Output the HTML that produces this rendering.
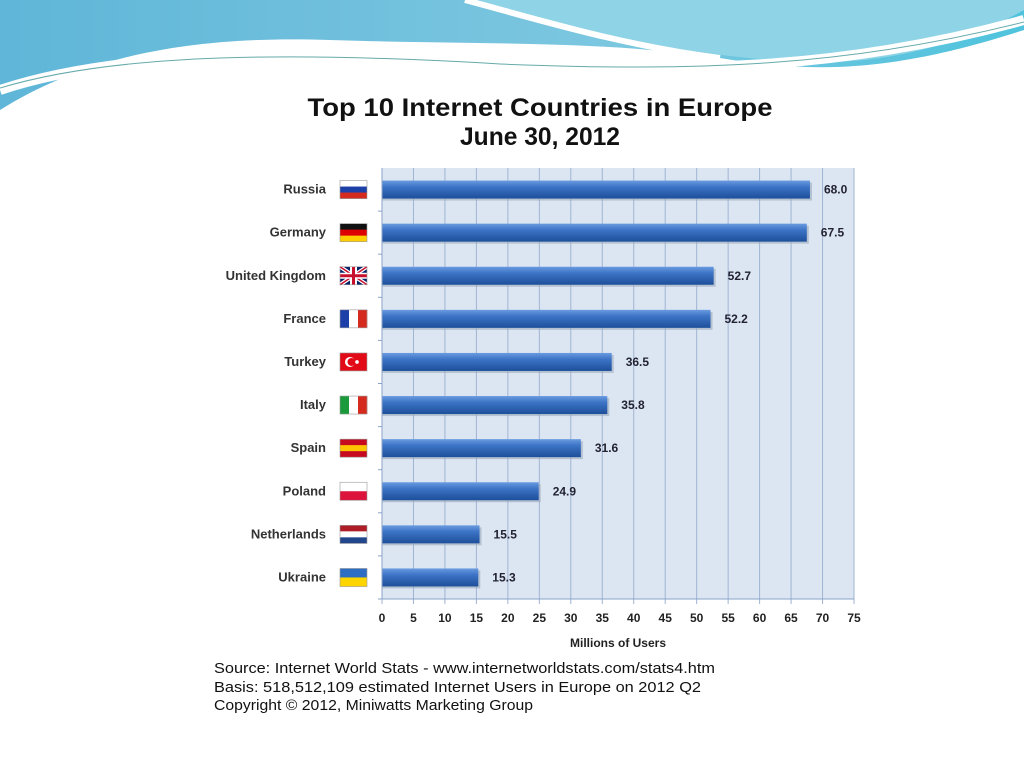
<!DOCTYPE html>
<html><head><meta charset="utf-8"><style>
html,body{margin:0;padding:0;background:#fff;width:1024px;height:767px;overflow:hidden}
svg{display:block}
text{font-family:"Liberation Sans",Arial,sans-serif}
</style></head><body>
<svg id="c" width="1024" height="767" viewBox="0 0 1024 767">
<defs>
<linearGradient id="bg1" x1="0" y1="0" x2="1" y2="0"><stop offset="0" stop-color="#5fb6d8"/><stop offset="0.6" stop-color="#7cc7e0"/><stop offset="1" stop-color="#4fc3dd"/></linearGradient>
<linearGradient id="bar" x1="0" y1="0" x2="0" y2="1"><stop offset="0" stop-color="#6a9be0"/><stop offset="0.35" stop-color="#3d74c6"/><stop offset="1" stop-color="#1d4f9a"/></linearGradient>
</defs>
<g>
<path d="M0,0 H1024 V30 C900,70 820,75 720,58 C600,40 480,45 330,40 C180,35 80,60 0,110 Z" fill="url(#bg1)"/>
<path d="M470,0 C560,30 680,55 800,62 C900,66 980,35 1024,10 V0 Z" fill="#8fd4e6"/>
<path d="M465,0 C540,20 620,45 720,58" stroke="#fff" stroke-width="6" fill="none"/>
<path d="M0,90 C120,50 300,50 500,62 C700,74 850,68 1024,20" stroke="#fff" stroke-width="10" fill="none"/>
<path d="M0,88 C120,52 300,52 500,64 C700,72 850,66 1024,22" stroke="#6aa" stroke-width="1" fill="none"/>
</g>
<rect x="193" y="85" width="679" height="635" fill="#fff"/>
<text x="540" y="116" text-anchor="middle" font-size="25" font-weight="bold" fill="#111" textLength="465" lengthAdjust="spacingAndGlyphs">Top 10 Internet Countries in Europe</text>
<text x="540" y="145" text-anchor="middle" font-size="25" font-weight="bold" fill="#111" textLength="160" lengthAdjust="spacingAndGlyphs">June 30, 2012</text>
<rect x="382" y="168" width="472" height="431" fill="#dce6f2"/>
<g id="grid"></g><g id="bars"></g><g id="axis"></g>
<text x="618" y="647" text-anchor="middle" font-size="12" font-weight="bold" fill="#222">Millions of Users</text>
<g font-size="15" fill="#111">
<text x="214" y="673" textLength="501" lengthAdjust="spacingAndGlyphs">Source: Internet World Stats  -  www.internetworldstats.com/stats4.htm</text>
<text x="214" y="692" textLength="487" lengthAdjust="spacingAndGlyphs">Basis: 518,512,109 estimated Internet  Users in Europe on 2012 Q2</text>
<text x="214" y="710" textLength="319" lengthAdjust="spacingAndGlyphs">Copyright © 2012, Miniwatts Marketing Group</text>
</g>
</svg>
<script>
const categories=["Russia","Germany","United Kingdom","France","Turkey","Italy","Spain","Poland","Netherlands","Ukraine"];
const values=[68.0,67.5,52.7,52.2,36.5,35.8,31.6,24.9,15.5,15.3];
const valueLabels=["68.0","67.5","52.7","52.2","36.5","35.8","31.6","24.9","15.5","15.3"];
const ticks=[0,5,10,15,20,25,30,35,40,45,50,55,60,65,70,75];
const flags=[["#fff","#1c3fa8","#d52b1e"],["#111","#dd0000","#ffce00"],["uk"],["v","#1c3fa8","#fff","#d52b1e"],["tr"],["v","#1a9a3a","#fff","#d52b1e"],["#c60b1e","#ffc400","#c60b1e"],["#fff","#dc143c"],["#ae1c28","#fff","#21468b"],["#2d6dc4","#ffd500"]];
const NS="http://www.w3.org/2000/svg";
const X0=382,X1=854,Y0=168,Y1=599;
const xs=v=>X0+(v-0)/(75-0)*(X1-X0);
const band=(Y1-Y0)/categories.length;
const yc=i=>Y0+band*(i+0.5);
function mk(t,a,p){const e=document.createElementNS(NS,t);for(const k in a)e.setAttribute(k,a[k]);p.appendChild(e);return e;}
const grid=document.getElementById('grid'),bars=document.getElementById('bars'),axis=document.getElementById('axis');
ticks.forEach(t=>{
 const l=mk('line',{x1:xs(t),x2:xs(t),y1:Y0,y2:Y1+5,stroke:'#9fb4d2','stroke-width':1},grid);
 
 
 const tx=mk('text',{x:xs(t),y:622,'text-anchor':'middle','font-size':12,'font-weight':'bold',fill:'#222'},axis);
 tx.textContent=t;
 
 
});
mk('line',{x1:X0,x2:X1,y1:Y1,y2:Y1,stroke:'#8aa3c8'},axis);
mk('line',{x1:X0,x2:X0,y1:Y0,y2:Y1,stroke:'#8aa3c8'},axis);
categories.forEach((c,i)=>{
 const y=yc(i);
 mk('line',{x1:X0-4,x2:X0,y1:Y0+band*(i+1),y2:Y0+band*(i+1),stroke:'#8aa3c8'},axis);
 const sh=mk('rect',{x:X0,y:y-7,width:xs(values[i])-X0+2,height:18,fill:'#9aa8ba',opacity:0.6},bars);
 
 
 const b=mk('rect',{x:X0,y:y-9,width:xs(values[i])-X0,height:18,fill:'url(#bar)'},bars);
 
 
 const v=mk('text',{x:xs(values[i])+14,y:y+4,'font-size':12,'font-weight':'bold',fill:'#223'},bars);
 v.textContent=valueLabels[i];
 
 
 const lab=mk('text',{x:326,y:y+4,'text-anchor':'end','font-size':13,'font-weight':'bold',fill:'#333'},axis);
 lab.textContent=c;
 
 
 const g=mk('g',{},axis);
 
 
 const fx=340,fy=y-9,fw=27,fh=18,f=flags[i];
 if(f[0]==='uk'){mk('rect',{x:fx,y:fy,width:fw,height:fh,fill:'#012169'},g);
  mk('path',{d:`M${fx},${fy}L${fx+fw},${fy+fh}M${fx+fw},${fy}L${fx},${fy+fh}`,stroke:'#fff','stroke-width':4},g);
  mk('path',{d:`M${fx},${fy}L${fx+fw},${fy+fh}M${fx+fw},${fy}L${fx},${fy+fh}`,stroke:'#c8102e','stroke-width':1.5},g);
  mk('rect',{x:fx,y:fy+6,width:fw,height:6,fill:'#fff'},g);mk('rect',{x:fx+10,y:fy,width:7,height:fh,fill:'#fff'},g);
  mk('rect',{x:fx,y:fy+7.5,width:fw,height:3,fill:'#c8102e'},g);mk('rect',{x:fx+12,y:fy,width:3,height:fh,fill:'#c8102e'},g);}
 else if(f[0]==='tr'){mk('rect',{x:fx,y:fy,width:fw,height:fh,fill:'#e30a17'},g);
  mk('circle',{cx:fx+10,cy:fy+9,r:5,fill:'#fff'},g);mk('circle',{cx:fx+11.5,cy:fy+9,r:4,fill:'#e30a17'},g);mk('circle',{cx:fx+17,cy:fy+9,r:1.8,fill:'#fff'},g);}
 else if(f[0]==='v'){for(let k=0;k<3;k++)mk('rect',{x:fx+k*fw/3,y:fy,width:fw/3+0.3,height:fh,fill:f[k+1]},g);}
 else {const n=f.length;f.forEach((col,k)=>mk('rect',{x:fx,y:fy+k*fh/n,width:fw,height:fh/n+0.3,fill:col},g));}
 mk('rect',{x:fx,y:fy,width:fw,height:fh,fill:'none',stroke:'#999','stroke-width':0.6},g);
});
</script>
</body></html>
